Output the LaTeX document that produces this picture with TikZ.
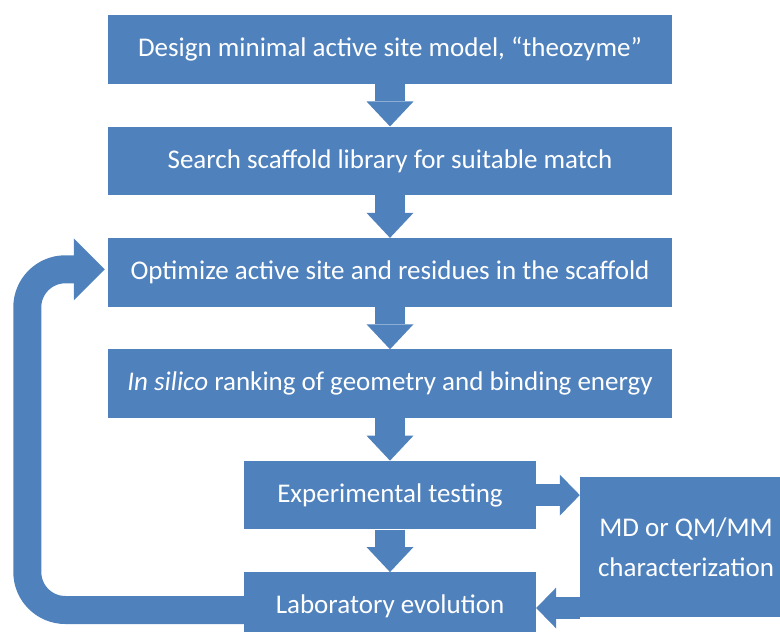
\documentclass[tikz,border=0pt]{standalone}
\usepackage{fontspec}
\setmainfont{Carlito}
\usetikzlibrary{positioning}
\usetikzlibrary{arrows.meta}
\definecolor{boxblue}{HTML}{4F81BD}

\begin{document}
\begin{tikzpicture}[x=1pt, y=-1pt, node distance=42.5pt,
    box/.style={fill=boxblue, text=white, minimum height=68.5pt, inner sep=0pt, font=\fontsize{27}{40}\selectfont},
    wide/.style={box, minimum width=564pt},
    narrow/.style={box, minimum width=292pt},
    down/.style={draw=boxblue, line width=30pt, -{Triangle[length=25pt, width=47pt, line width=0pt]}},
    side/.style={draw=boxblue, line width=22pt, -{Triangle[length=20pt, width=41pt, line width=0pt]}},
    backloop/.style={draw=boxblue, line width=28pt, rounded corners=38pt, shorten >=3pt, -{Triangle[length=31pt, width=62pt, line width=0pt]}}]
\useasboundingbox (0,0) rectangle (780,632);
\node[wide] (design) at (390,49.5) {Design minimal active site model, “theozyme”};
\node[wide, below=of design] (search) {Search scaffold library for suitable match};
\node[wide, below=of search] (optimize) {Optimize active site and residues in the scaffold};
\node[wide, below=of optimize] (rank) {\textit{In silico} ranking of geometry and binding energy};
\node[narrow, below=of rank] (test) {Experimental testing};
\node[narrow, below=of test] (evolve) {Laboratory evolution};
\node[box, minimum width=212pt, minimum height=140pt, align=center] (md) at (686,547) {MD or QM/MM\\characterization};
% main chain
\draw[down] (design) -- (search);
\draw[down] (search) -- (optimize);
\draw[down] (optimize) -- (rank);
\draw[down] (rank) -- (test);
\draw[down] (test) -- (evolve);
% side branch
\draw[side] (test.east) -- (test.east -| md.west);
\coordinate (back) at ([yshift=-61pt]md.west);
\draw[side] (back) -- (back -| evolve.east);
% evolution loop
\coordinate (loopstart) at ([yshift=-3.5pt]evolve.west);
\draw[backloop] (loopstart) -- ++(-216.5,0) |- ([yshift=3pt]optimize.west);
\end{tikzpicture}
\end{document}
